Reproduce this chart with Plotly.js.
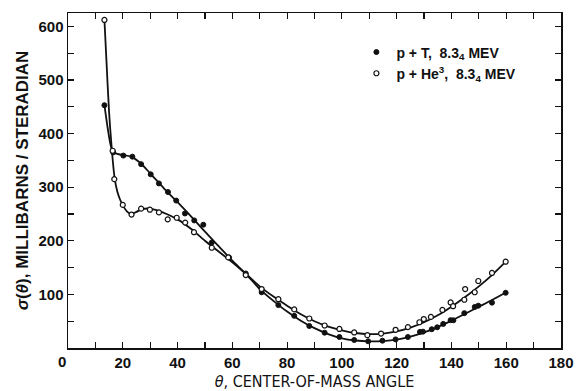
<!DOCTYPE html>
<html><head><meta charset="utf-8">
<script src="https://cdn.plot.ly/plotly-3.0.1.min.js"></script>
<style>html,body{margin:0;padding:0;background:#fff}#c{width:577px;height:391px}</style>
</head><body><div id="c"></div>
<script>
// Measured points: p + T (filled)
const tAngle = [13.3,16.5,20.2,23.5,26.7,30.2,33.2,36.5,39.5,42.7,46.1,49.4,52.5,58.8,64.9,70.7,76.8,82.6,88.1,93.7,99.1,104.5,109.6,114.8,119.6,124.1,128.5,129.6,132.8,134.8,137.0,139.7,140.7,144.7,148.5,149.8,154.8,159.8];
const tSigma = [453,365,359,357,343,324,307,291,275,251,238,230,197,169,139,104,80,60,41,28.6,20.5,15,12.5,13.7,16,20.5,30,30.5,35,38.6,45,52,51.7,65,76.6,79,84.6,103];
// Measured points: p + He3 (open)
const heAngle = [13.3,16.3,16.9,20.0,23.2,26.7,29.9,33.2,36.4,39.7,42.8,46.0,52.5,58.5,64.9,70.7,76.8,82.6,88.1,93.7,99.1,104.5,109.3,114.3,119.6,124.1,128.3,129.9,132.5,136.7,139.7,140.6,145.0,144.7,148.5,149.8,154.8,159.8];
const heSigma = [612,368,315,267,249,260,258,253,240,243,234,216,187,169,136,110,91,72,55,42,35.5,29,24,27,34,39,48,54,58,71,85,78,110,90,104,125,140,161];
// Hand-drawn smooth curves
const tCurveX = [13.3,14.5,15.5,16.5,18,20,23,26,30,35,40,45,50,55,60,65,70,75,80,85,90,95,100,105,110,115,120,125,130,135,140,145,150,155,160];
const tCurveY = [453,410,380,366,362,360,357,347,326,298,272,245,217,190,163,138,110,88,68,51,37,26,18,14,12.5,13,15.5,21,29,39,51,64,77,90,104];
const heCurveX = [13.3,14,15,16,17,18,19,20,21.5,23,25,27,30,33,36,40,45,50,55,60,65,70,75,80,85,90,95,100,105,110,115,120,125,130,135,140,145,150,155,160];
const heCurveY = [612,540,440,370,318,292,277,266,255,250,254,259,260,256,250,240,222,200,180,160,138,115,96,79,63,50,40,33,28,26,27,31,38,48,61,77,95,115,137,162];
const xTicks = [0,20,40,60,80,100,120,140,160,180];
const xTickText = ['','20','40','60','80','100','120','140','160','180'];
const yTicks = [100,200,300,400,500,600];
const legT = 'p + T,  8.3<sub>4</sub> MEV';
const legHe = 'p + He<sup>3</sup>,  8.3<sub>4</sub> MEV';

const lineStyle = {color:'#111', width:1.8, shape:'spline', smoothing:0.8};
const data = [
  {x:tCurveX, y:tCurveY, mode:'lines', line:lineStyle, showlegend:false, hoverinfo:'skip'},
  {x:heCurveX, y:heCurveY, mode:'lines', line:lineStyle, showlegend:false, hoverinfo:'skip'},
  {x:tAngle, y:tSigma, mode:'markers', name:legT,
   marker:{symbol:'circle', size:5, color:'#111', line:{color:'#111', width:1}}},
  {x:heAngle, y:heSigma, mode:'markers', name:legHe,
   marker:{symbol:'circle', size:5, color:'#fff', line:{color:'#111', width:1.2}}}
];
const axFont = {family:'Liberation Sans, Arial, sans-serif', size:15, color:'#111', weight:'bold'};
const layout = {
  width:577, height:391,
  margin:{l:68, r:16, t:13, b:43},
  paper_bgcolor:'#fff', plot_bgcolor:'#fff',
  showlegend:true,
  legend:{x:0.585, y:0.93, xanchor:'left', yanchor:'top', bgcolor:'rgba(0,0,0,0)',
    font:{family:'Liberation Sans, Arial, sans-serif', size:14, color:'#111', weight:'bold'},
    itemwidth:30, tracegroupgap:2},
  xaxis:{range:[0,180], tickvals:xTicks, ticktext:xTickText,
    ticks:'inside', ticklen:6, tickwidth:1.2, tickcolor:'#111',
    minor:{dtick:10, tick0:0, ticks:'inside', ticklen:6, tickwidth:1.2, tickcolor:'#111'},
    showline:true, linecolor:'#111', linewidth:1.5, mirror:'allticks',
    showgrid:false, zeroline:false, tickfont:axFont,
    title:{text:'<i>θ</i>, CENTER-OF-MASS ANGLE', standoff:6,
      font:{family:'Liberation Sans Narrow, DejaVu Sans Condensed, Arial Narrow, sans-serif', size:16, color:'#111'}}},
  yaxis:{range:[0,625], tickvals:yTicks, ticktext:yTicks.map(String),
    ticks:'inside', ticklen:6, tickwidth:1.2, tickcolor:'#111',
    minor:{dtick:50, tick0:0, ticks:'inside', ticklen:6, tickwidth:1.2, tickcolor:'#111'},
    showline:true, linecolor:'#111', linewidth:1.5, mirror:'allticks',
    showgrid:false, zeroline:false, tickfont:axFont,
    title:{text:'<i>σ</i>(<i>θ</i>), MILLIBARNS / STERADIAN', standoff:5,
      font:{family:'Liberation Sans, Arial, sans-serif', size:17, color:'#111', weight:'bold'}}},
  annotations:[{text:'0', x:0, y:0, xref:'x', yref:'y', xanchor:'center', yanchor:'top',
    xshift:-6, yshift:-3, showarrow:false, font:axFont}]
};
Plotly.newPlot('c', data, layout, {staticPlot:true, displayModeBar:false});
</script></body></html>
